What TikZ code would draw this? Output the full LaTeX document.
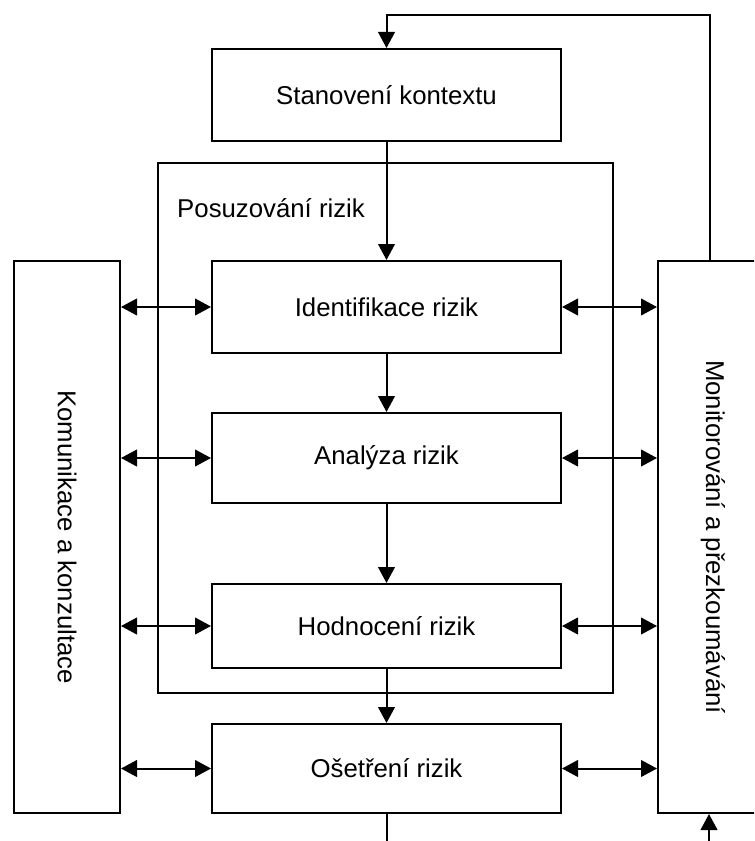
\documentclass[tikz,border=0pt]{standalone}
\usepackage{fontspec}
\setmainfont{Liberation Sans}
\usetikzlibrary{arrows.meta}
\begin{document}
\begin{tikzpicture}[x=0.03cm,y=-0.03cm,
  box/.style={draw,line width=0.06cm,inner sep=0pt,anchor=north west},
  txt/.style={font=\fontsize{22}{26}\selectfont,inner sep=0pt},
  conn/.style={line width=0.06cm},
  tip/.style={-{Triangle[length=0.48cm,width=0.5cm]}},
  both/.style={{Triangle[length=0.48cm,width=0.5cm]}-{Triangle[length=0.48cm,width=0.5cm]}}]
\clip (0,0) rectangle (754,841);
\fill[white] (0,0) rectangle (754,841);
% assessment frame
\node[box,minimum width=455*0.03cm,minimum height=530*0.03cm] (pos) at (157,162) {};
\node[txt,anchor=west] (poslbl) at (177,208) {Posuzování rizik};
% main boxes
\node[box,minimum width=349*0.03cm,minimum height=92*0.03cm] (stan) at (211,48) {};
\node[txt] (stant) at (stan.center) {Stanovení kontextu};
\node[box,minimum width=349*0.03cm,minimum height=92*0.03cm] (idf) at (211,260) {};
\node[txt] (idft) at (idf.center) {Identifikace rizik};
\node[box,minimum width=349*0.03cm,minimum height=90*0.03cm] (ana) at (211,412) {};
\node[txt] (anat) at (ana.center) {Analýza rizik};
\node[box,minimum width=349*0.03cm,minimum height=84*0.03cm] (hod) at (211,583) {};
\node[txt] (hodt) at (hod.center) {Hodnocení rizik};
\node[box,minimum width=349*0.03cm,minimum height=89*0.03cm] (ose) at (211,723) {};
\node[txt] (oset) at (ose.center) {Ošetření rizik};
% side boxes
\node[box,minimum width=106*0.03cm,minimum height=552*0.03cm] (kom) at (13,260) {};
\node[txt,rotate=-90] (komt) at (kom.center) {Komunikace a konzultace};
\node[box,minimum width=110*0.03cm,minimum height=552*0.03cm] (mon) at (657,260) {};
\node[txt,rotate=-90] (mont) at (mon.center) {Monitorování a přezkoumávání};
% vertical flow
\draw[conn,tip] (stan.south) -- (idf.north);
\draw[conn,tip] (idf.south) -- (ana.north);
\draw[conn,tip] (ana.south) -- (hod.north);
\draw[conn,tip] (hod.south) -- (ose.north);
\coordinate (botL) at (385.5,850);
\draw[conn] (ose.south) -- (ose.south |- botL);
% feedback loop
\coordinate (fb) at (710,15);
\draw[conn,tip] (mon.north -| fb) -- (fb) -| (stan.north);
\coordinate (botR) at (709,850);
\draw[conn,tip] (botR) -- (botR |- mon.south);
% horizontal double arrows
\foreach \b in {idf,ana,hod,ose}{
  \draw[conn,both] (kom.east |- \b.west) -- (\b.west);
  \draw[conn,both] (\b.east) -- (mon.west |- \b.east);
}
\end{tikzpicture}
\end{document}
